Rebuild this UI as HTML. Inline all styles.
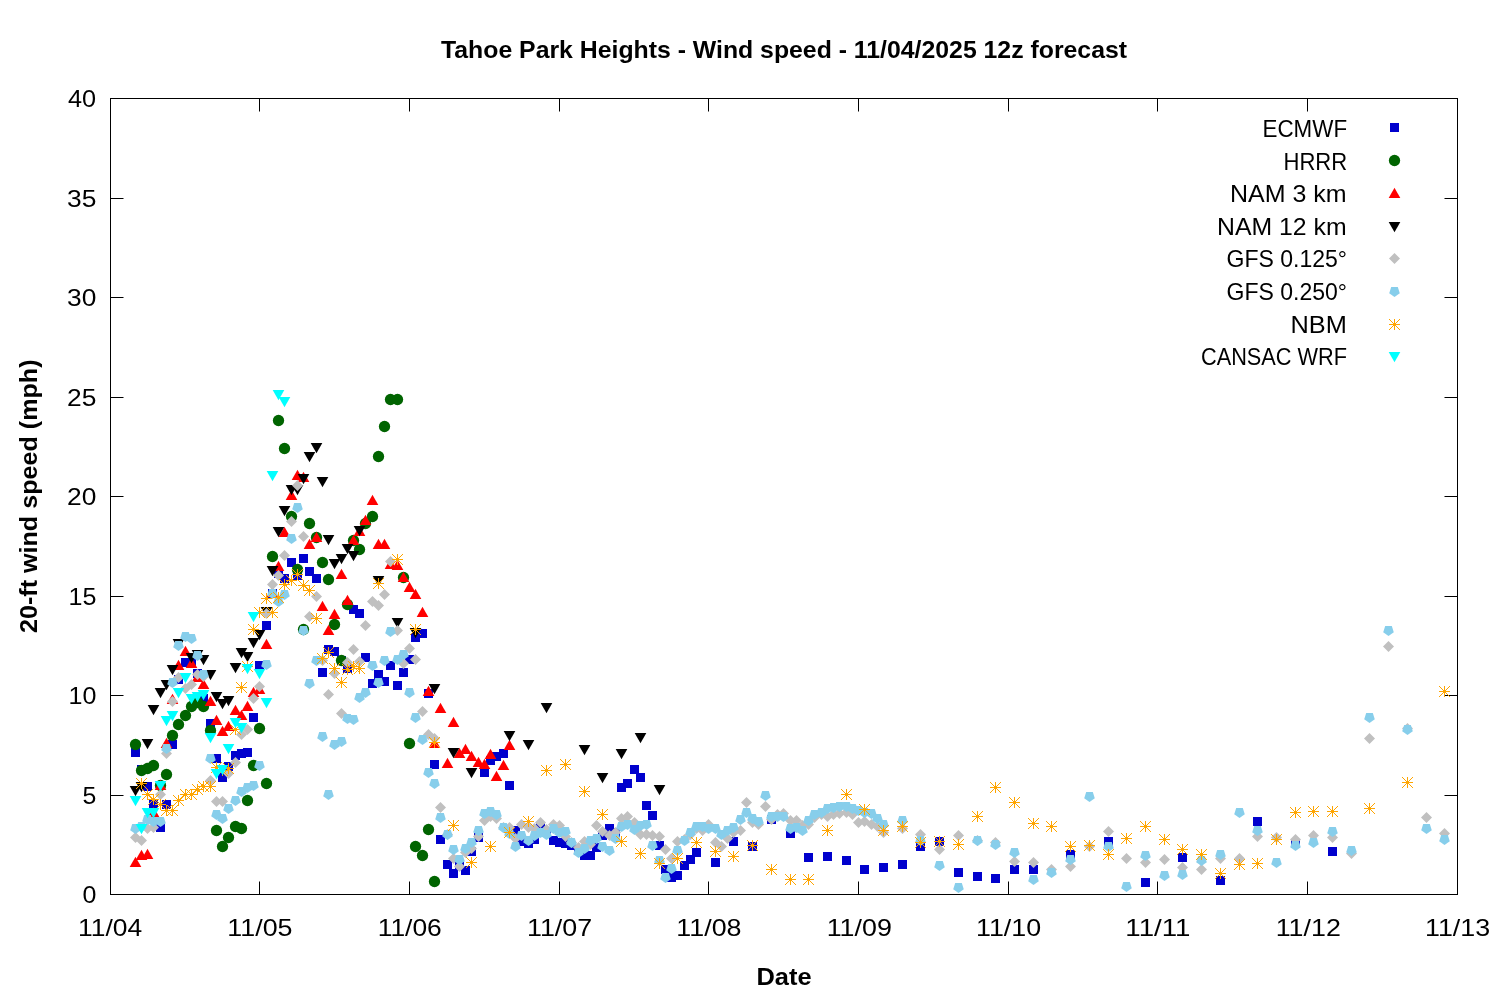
<!DOCTYPE html>
<html lang="en"><head><meta charset="utf-8"><title>Tahoe Park Heights - Wind speed - 11/04/2025 12z forecast</title>
<style>html,body{margin:0;padding:0;background:#fff}svg{display:block}text{font-family:"Liberation Sans", sans-serif;fill:#000}</style>
</head><body>
<svg width="1500" height="1000" viewBox="0 0 1500 1000">
<rect width="1500" height="1000" fill="#fff"/>
<g stroke="#000" stroke-width="1" fill="none" stroke-linecap="butt">
<rect x="110.5" y="98.5" width="1347.0" height="796.0"/>
<path d="M110.5 894.5v-13M110.5 98.5v13M259.5 894.5v-13M259.5 98.5v13M409.5 894.5v-13M409.5 98.5v13M559.5 894.5v-13M559.5 98.5v13M708.5 894.5v-13M708.5 98.5v13M858.5 894.5v-13M858.5 98.5v13M1008.5 894.5v-13M1008.5 98.5v13M1157.5 894.5v-13M1157.5 98.5v13M1307.5 894.5v-13M1307.5 98.5v13M1457.5 894.5v-13M1457.5 98.5v13M110.5 894.5h13M1457.5 894.5h-13M110.5 795.5h13M1457.5 795.5h-13M110.5 695.5h13M1457.5 695.5h-13M110.5 596.5h13M1457.5 596.5h-13M110.5 496.5h13M1457.5 496.5h-13M110.5 397.5h13M1457.5 397.5h-13M110.5 297.5h13M1457.5 297.5h-13M110.5 198.5h13M1457.5 198.5h-13M110.5 98.5h13M1457.5 98.5h-13"/>
</g>
<text x="441.0" y="58.3" font-size="24" font-weight="bold" textLength="686.0" lengthAdjust="spacingAndGlyphs">Tahoe Park Heights - Wind speed - 11/04/2025 12z forecast</text>
<text x="756.5" y="985.3" font-size="24" font-weight="bold" textLength="55.09" lengthAdjust="spacingAndGlyphs">Date</text>
<text x="36.8" y="633.0" font-size="24" font-weight="bold" textLength="273.52" lengthAdjust="spacingAndGlyphs" transform="rotate(-90 36.8 633.0)">20-ft wind speed (mph)</text>
<text x="1262.5" y="136.9" font-size="24" textLength="84.57" lengthAdjust="spacingAndGlyphs">ECMWF</text>
<text x="1283.5" y="169.5" font-size="24" textLength="63.7" lengthAdjust="spacingAndGlyphs">HRRR</text>
<text x="1230.0" y="202.10000000000002" font-size="24" textLength="116.6" lengthAdjust="spacingAndGlyphs">NAM 3 km</text>
<text x="1217.0" y="234.70000000000002" font-size="24" textLength="129.57" lengthAdjust="spacingAndGlyphs">NAM 12 km</text>
<text x="1226.5" y="267.3" font-size="24" textLength="120.55" lengthAdjust="spacingAndGlyphs">GFS 0.125°</text>
<text x="1226.5" y="299.9" font-size="24" textLength="120.55" lengthAdjust="spacingAndGlyphs">GFS 0.250°</text>
<text x="1290.5" y="332.5" font-size="24" textLength="56.34" lengthAdjust="spacingAndGlyphs">NBM</text>
<text x="1201.0" y="365.1" font-size="24" textLength="146.02" lengthAdjust="spacingAndGlyphs">CANSAC WRF</text>
<text x="82.5" y="903.0" font-size="24" textLength="13.91" lengthAdjust="spacingAndGlyphs">0</text>
<text x="82.5" y="803.5" font-size="24" textLength="13.81" lengthAdjust="spacingAndGlyphs">5</text>
<text x="68.5" y="704.0" font-size="24" textLength="27.89" lengthAdjust="spacingAndGlyphs">10</text>
<text x="68.5" y="604.5" font-size="24" textLength="27.89" lengthAdjust="spacingAndGlyphs">15</text>
<text x="67.0" y="505.0" font-size="24" textLength="29.32" lengthAdjust="spacingAndGlyphs">20</text>
<text x="67.0" y="405.5" font-size="24" textLength="29.32" lengthAdjust="spacingAndGlyphs">25</text>
<text x="67.0" y="306.0" font-size="24" textLength="29.32" lengthAdjust="spacingAndGlyphs">30</text>
<text x="67.0" y="206.5" font-size="24" textLength="29.32" lengthAdjust="spacingAndGlyphs">35</text>
<text x="68.0" y="107.0" font-size="24" textLength="28.14" lengthAdjust="spacingAndGlyphs">40</text>
<text x="78.0" y="936.0" font-size="24" textLength="64.12" lengthAdjust="spacingAndGlyphs">11/04</text>
<text x="227.33" y="936.0" font-size="24" textLength="65.15" lengthAdjust="spacingAndGlyphs">11/05</text>
<text x="377.67" y="936.0" font-size="24" textLength="64.12" lengthAdjust="spacingAndGlyphs">11/06</text>
<text x="527.0" y="936.0" font-size="24" textLength="65.15" lengthAdjust="spacingAndGlyphs">11/07</text>
<text x="676.33" y="936.0" font-size="24" textLength="65.15" lengthAdjust="spacingAndGlyphs">11/08</text>
<text x="826.67" y="936.0" font-size="24" textLength="65.15" lengthAdjust="spacingAndGlyphs">11/09</text>
<text x="976.0" y="936.0" font-size="24" textLength="65.17" lengthAdjust="spacingAndGlyphs">11/10</text>
<text x="1125.33" y="936.0" font-size="24" textLength="65.17" lengthAdjust="spacingAndGlyphs">11/11</text>
<text x="1275.67" y="936.0" font-size="24" textLength="65.15" lengthAdjust="spacingAndGlyphs">11/12</text>
<text x="1425.0" y="936.0" font-size="24" textLength="65.15" lengthAdjust="spacingAndGlyphs">11/13</text>
<g fill="#0000cd">
<rect x="131.0" y="748.0" width="9" height="9"/>
<rect x="137.0" y="765.0" width="9" height="9"/>
<rect x="143.0" y="782.0" width="9" height="9"/>
<rect x="149.0" y="800.0" width="9" height="9"/>
<rect x="156.0" y="823.0" width="9" height="9"/>
<rect x="162.0" y="800.0" width="9" height="9"/>
<rect x="168.0" y="740.0" width="9" height="9"/>
<rect x="174.0" y="675.0" width="9" height="9"/>
<rect x="181.0" y="658.0" width="9" height="9"/>
<rect x="187.0" y="658.0" width="9" height="9"/>
<rect x="193.0" y="669.0" width="9" height="9"/>
<rect x="199.0" y="694.0" width="9" height="9"/>
<rect x="206.0" y="719.0" width="9" height="9"/>
<rect x="212.0" y="754.0" width="9" height="9"/>
<rect x="218.0" y="773.0" width="9" height="9"/>
<rect x="224.0" y="762.0" width="9" height="9"/>
<rect x="231.0" y="751.0" width="9" height="9"/>
<rect x="237.0" y="749.0" width="9" height="9"/>
<rect x="243.0" y="748.0" width="9" height="9"/>
<rect x="249.0" y="713.0" width="9" height="9"/>
<rect x="255.0" y="661.0" width="9" height="9"/>
<rect x="262.0" y="621.0" width="9" height="9"/>
<rect x="268.0" y="589.0" width="9" height="9"/>
<rect x="274.0" y="569.0" width="9" height="9"/>
<rect x="280.0" y="574.0" width="9" height="9"/>
<rect x="287.0" y="558.0" width="9" height="9"/>
<rect x="293.0" y="571.0" width="9" height="9"/>
<rect x="299.0" y="554.0" width="9" height="9"/>
<rect x="305.0" y="567.0" width="9" height="9"/>
<rect x="312.0" y="574.0" width="9" height="9"/>
<rect x="318.0" y="668.0" width="9" height="9"/>
<rect x="324.0" y="645.0" width="9" height="9"/>
<rect x="330.0" y="647.0" width="9" height="9"/>
<rect x="337.0" y="656.0" width="9" height="9"/>
<rect x="343.0" y="664.0" width="9" height="9"/>
<rect x="349.0" y="605.0" width="9" height="9"/>
<rect x="355.0" y="609.0" width="9" height="9"/>
<rect x="361.0" y="653.0" width="9" height="9"/>
<rect x="368.0" y="679.0" width="9" height="9"/>
<rect x="374.0" y="670.0" width="9" height="9"/>
<rect x="380.0" y="677.0" width="9" height="9"/>
<rect x="386.0" y="661.0" width="9" height="9"/>
<rect x="393.0" y="681.0" width="9" height="9"/>
<rect x="399.0" y="668.0" width="9" height="9"/>
<rect x="405.0" y="655.0" width="9" height="9"/>
<rect x="411.0" y="633.0" width="9" height="9"/>
<rect x="418.0" y="629.0" width="9" height="9"/>
<rect x="424.0" y="689.0" width="9" height="9"/>
<rect x="430.0" y="760.0" width="9" height="9"/>
<rect x="436.0" y="835.0" width="9" height="9"/>
<rect x="443.0" y="860.0" width="9" height="9"/>
<rect x="449.0" y="869.0" width="9" height="9"/>
<rect x="455.0" y="861.0" width="9" height="9"/>
<rect x="461.0" y="866.0" width="9" height="9"/>
<rect x="467.0" y="847.0" width="9" height="9"/>
<rect x="474.0" y="833.0" width="9" height="9"/>
<rect x="480.0" y="768.0" width="9" height="9"/>
<rect x="486.0" y="756.0" width="9" height="9"/>
<rect x="492.0" y="752.0" width="9" height="9"/>
<rect x="499.0" y="749.0" width="9" height="9"/>
<rect x="505.0" y="781.0" width="9" height="9"/>
<rect x="511.0" y="826.0" width="9" height="9"/>
<rect x="517.0" y="837.0" width="9" height="9"/>
<rect x="524.0" y="839.0" width="9" height="9"/>
<rect x="530.0" y="835.0" width="9" height="9"/>
<rect x="536.0" y="822.0" width="9" height="9"/>
<rect x="542.0" y="828.0" width="9" height="9"/>
<rect x="549.0" y="836.0" width="9" height="9"/>
<rect x="555.0" y="838.0" width="9" height="9"/>
<rect x="561.0" y="839.0" width="9" height="9"/>
<rect x="567.0" y="841.0" width="9" height="9"/>
<rect x="574.0" y="846.0" width="9" height="9"/>
<rect x="580.0" y="851.0" width="9" height="9"/>
<rect x="586.0" y="851.0" width="9" height="9"/>
<rect x="592.0" y="843.0" width="9" height="9"/>
<rect x="598.0" y="831.0" width="9" height="9"/>
<rect x="605.0" y="824.0" width="9" height="9"/>
<rect x="611.0" y="828.0" width="9" height="9"/>
<rect x="617.0" y="783.0" width="9" height="9"/>
<rect x="623.0" y="779.0" width="9" height="9"/>
<rect x="630.0" y="765.0" width="9" height="9"/>
<rect x="636.0" y="773.0" width="9" height="9"/>
<rect x="642.0" y="801.0" width="9" height="9"/>
<rect x="648.0" y="811.0" width="9" height="9"/>
<rect x="655.0" y="841.0" width="9" height="9"/>
<rect x="661.0" y="865.0" width="9" height="9"/>
<rect x="667.0" y="873.0" width="9" height="9"/>
<rect x="673.0" y="871.0" width="9" height="9"/>
<rect x="680.0" y="861.0" width="9" height="9"/>
<rect x="686.0" y="855.0" width="9" height="9"/>
<rect x="692.0" y="848.0" width="9" height="9"/>
<rect x="711.0" y="858.0" width="9" height="9"/>
<rect x="729.0" y="837.0" width="9" height="9"/>
<rect x="748.0" y="842.0" width="9" height="9"/>
<rect x="767.0" y="815.0" width="9" height="9"/>
<rect x="786.0" y="829.0" width="9" height="9"/>
<rect x="804.0" y="853.0" width="9" height="9"/>
<rect x="823.0" y="852.0" width="9" height="9"/>
<rect x="842.0" y="856.0" width="9" height="9"/>
<rect x="860.0" y="865.0" width="9" height="9"/>
<rect x="879.0" y="863.0" width="9" height="9"/>
<rect x="898.0" y="860.0" width="9" height="9"/>
<rect x="916.0" y="842.0" width="9" height="9"/>
<rect x="935.0" y="837.0" width="9" height="9"/>
<rect x="954.0" y="868.0" width="9" height="9"/>
<rect x="973.0" y="872.0" width="9" height="9"/>
<rect x="991.0" y="874.0" width="9" height="9"/>
<rect x="1010.0" y="865.0" width="9" height="9"/>
<rect x="1029.0" y="865.0" width="9" height="9"/>
<rect x="1066.0" y="850.0" width="9" height="9"/>
<rect x="1104.0" y="837.0" width="9" height="9"/>
<rect x="1141.0" y="878.0" width="9" height="9"/>
<rect x="1178.0" y="853.0" width="9" height="9"/>
<rect x="1216.0" y="876.0" width="9" height="9"/>
<rect x="1253.0" y="817.0" width="9" height="9"/>
<rect x="1291.0" y="839.0" width="9" height="9"/>
<rect x="1328.0" y="847.0" width="9" height="9"/>
<rect x="1390.0" y="123.0" width="9" height="9"/>
</g>
<g fill="#006400">
<circle cx="135.5" cy="744.5" r="5.65"/>
<circle cx="141.5" cy="770.5" r="5.65"/>
<circle cx="147.5" cy="768.5" r="5.65"/>
<circle cx="153.5" cy="765.5" r="5.65"/>
<circle cx="160.5" cy="785.5" r="5.65"/>
<circle cx="166.5" cy="774.5" r="5.65"/>
<circle cx="172.5" cy="735.5" r="5.65"/>
<circle cx="178.5" cy="724.5" r="5.65"/>
<circle cx="185.5" cy="715.5" r="5.65"/>
<circle cx="191.5" cy="706.5" r="5.65"/>
<circle cx="197.5" cy="702.5" r="5.65"/>
<circle cx="203.5" cy="706.5" r="5.65"/>
<circle cx="210.5" cy="730.5" r="5.65"/>
<circle cx="216.5" cy="830.5" r="5.65"/>
<circle cx="222.5" cy="846.5" r="5.65"/>
<circle cx="228.5" cy="837.5" r="5.65"/>
<circle cx="235.5" cy="826.5" r="5.65"/>
<circle cx="241.5" cy="828.5" r="5.65"/>
<circle cx="247.5" cy="800.5" r="5.65"/>
<circle cx="253.5" cy="765.5" r="5.65"/>
<circle cx="259.5" cy="728.5" r="5.65"/>
<circle cx="266.5" cy="783.5" r="5.65"/>
<circle cx="272.5" cy="556.5" r="5.65"/>
<circle cx="278.5" cy="420.5" r="5.65"/>
<circle cx="284.5" cy="448.5" r="5.65"/>
<circle cx="291.5" cy="516.5" r="5.65"/>
<circle cx="297.5" cy="569.5" r="5.65"/>
<circle cx="303.5" cy="629.5" r="5.65"/>
<circle cx="309.5" cy="523.5" r="5.65"/>
<circle cx="316.5" cy="537.5" r="5.65"/>
<circle cx="322.5" cy="562.5" r="5.65"/>
<circle cx="328.5" cy="579.5" r="5.65"/>
<circle cx="334.5" cy="624.5" r="5.65"/>
<circle cx="341.5" cy="660.5" r="5.65"/>
<circle cx="347.5" cy="604.5" r="5.65"/>
<circle cx="353.5" cy="540.5" r="5.65"/>
<circle cx="359.5" cy="549.5" r="5.65"/>
<circle cx="365.5" cy="523.5" r="5.65"/>
<circle cx="372.5" cy="516.5" r="5.65"/>
<circle cx="378.5" cy="456.5" r="5.65"/>
<circle cx="384.5" cy="426.5" r="5.65"/>
<circle cx="390.5" cy="399.5" r="5.65"/>
<circle cx="397.5" cy="399.5" r="5.65"/>
<circle cx="403.5" cy="577.5" r="5.65"/>
<circle cx="409.5" cy="743.5" r="5.65"/>
<circle cx="415.5" cy="846.5" r="5.65"/>
<circle cx="422.5" cy="855.5" r="5.65"/>
<circle cx="428.5" cy="829.5" r="5.65"/>
<circle cx="434.5" cy="881.5" r="5.65"/>
<circle cx="1394.5" cy="160.5" r="5.65"/>
</g>
<g fill="#ff0000">
<path d="M135.5 856.82l5.8 10.2h-11.6z"/>
<path d="M141.5 849.82l5.8 10.2h-11.6z"/>
<path d="M147.5 848.82l5.8 10.2h-11.6z"/>
<path d="M153.5 806.82l5.8 10.2h-11.6z"/>
<path d="M160.5 779.82l5.8 10.2h-11.6z"/>
<path d="M166.5 737.82l5.8 10.2h-11.6z"/>
<path d="M172.5 693.82l5.8 10.2h-11.6z"/>
<path d="M178.5 659.82l5.8 10.2h-11.6z"/>
<path d="M185.5 645.82l5.8 10.2h-11.6z"/>
<path d="M191.5 657.82l5.8 10.2h-11.6z"/>
<path d="M197.5 671.82l5.8 10.2h-11.6z"/>
<path d="M203.5 678.82l5.8 10.2h-11.6z"/>
<path d="M210.5 695.82l5.8 10.2h-11.6z"/>
<path d="M216.5 714.82l5.8 10.2h-11.6z"/>
<path d="M222.5 725.82l5.8 10.2h-11.6z"/>
<path d="M228.5 720.82l5.8 10.2h-11.6z"/>
<path d="M235.5 704.82l5.8 10.2h-11.6z"/>
<path d="M241.5 709.82l5.8 10.2h-11.6z"/>
<path d="M247.5 700.82l5.8 10.2h-11.6z"/>
<path d="M253.5 686.82l5.8 10.2h-11.6z"/>
<path d="M259.5 683.82l5.8 10.2h-11.6z"/>
<path d="M266.5 638.82l5.8 10.2h-11.6z"/>
<path d="M272.5 586.82l5.8 10.2h-11.6z"/>
<path d="M278.5 560.82l5.8 10.2h-11.6z"/>
<path d="M284.5 526.82l5.8 10.2h-11.6z"/>
<path d="M291.5 489.82l5.8 10.2h-11.6z"/>
<path d="M297.5 469.82l5.8 10.2h-11.6z"/>
<path d="M303.5 471.82l5.8 10.2h-11.6z"/>
<path d="M309.5 538.82l5.8 10.2h-11.6z"/>
<path d="M316.5 531.82l5.8 10.2h-11.6z"/>
<path d="M322.5 600.82l5.8 10.2h-11.6z"/>
<path d="M328.5 624.82l5.8 10.2h-11.6z"/>
<path d="M334.5 608.82l5.8 10.2h-11.6z"/>
<path d="M341.5 568.82l5.8 10.2h-11.6z"/>
<path d="M347.5 594.82l5.8 10.2h-11.6z"/>
<path d="M353.5 534.82l5.8 10.2h-11.6z"/>
<path d="M359.5 525.82l5.8 10.2h-11.6z"/>
<path d="M365.5 514.82l5.8 10.2h-11.6z"/>
<path d="M372.5 494.82l5.8 10.2h-11.6z"/>
<path d="M378.5 538.82l5.8 10.2h-11.6z"/>
<path d="M384.5 538.82l5.8 10.2h-11.6z"/>
<path d="M390.5 558.82l5.8 10.2h-11.6z"/>
<path d="M397.5 559.82l5.8 10.2h-11.6z"/>
<path d="M403.5 571.82l5.8 10.2h-11.6z"/>
<path d="M409.5 581.82l5.8 10.2h-11.6z"/>
<path d="M415.5 588.82l5.8 10.2h-11.6z"/>
<path d="M422.5 606.82l5.8 10.2h-11.6z"/>
<path d="M428.5 685.82l5.8 10.2h-11.6z"/>
<path d="M434.5 737.82l5.8 10.2h-11.6z"/>
<path d="M440.5 702.82l5.8 10.2h-11.6z"/>
<path d="M447.5 757.82l5.8 10.2h-11.6z"/>
<path d="M453.5 716.82l5.8 10.2h-11.6z"/>
<path d="M459.5 747.82l5.8 10.2h-11.6z"/>
<path d="M465.5 743.82l5.8 10.2h-11.6z"/>
<path d="M471.5 750.82l5.8 10.2h-11.6z"/>
<path d="M478.5 756.82l5.8 10.2h-11.6z"/>
<path d="M484.5 758.82l5.8 10.2h-11.6z"/>
<path d="M490.5 748.82l5.8 10.2h-11.6z"/>
<path d="M496.5 770.82l5.8 10.2h-11.6z"/>
<path d="M503.5 759.82l5.8 10.2h-11.6z"/>
<path d="M509.5 739.82l5.8 10.2h-11.6z"/>
<path d="M1394.5 187.82l5.8 10.2h-11.6z"/>
</g>
<g fill="#000000">
<path d="M135.5 796.18l5.8 -10.2h-11.6z"/>
<path d="M141.5 792.18l5.8 -10.2h-11.6z"/>
<path d="M147.5 749.18l5.8 -10.2h-11.6z"/>
<path d="M153.5 715.18l5.8 -10.2h-11.6z"/>
<path d="M160.5 698.18l5.8 -10.2h-11.6z"/>
<path d="M166.5 690.18l5.8 -10.2h-11.6z"/>
<path d="M172.5 675.18l5.8 -10.2h-11.6z"/>
<path d="M178.5 649.18l5.8 -10.2h-11.6z"/>
<path d="M191.5 663.18l5.8 -10.2h-11.6z"/>
<path d="M197.5 660.18l5.8 -10.2h-11.6z"/>
<path d="M203.5 665.18l5.8 -10.2h-11.6z"/>
<path d="M210.5 680.18l5.8 -10.2h-11.6z"/>
<path d="M216.5 702.18l5.8 -10.2h-11.6z"/>
<path d="M222.5 709.18l5.8 -10.2h-11.6z"/>
<path d="M228.5 706.18l5.8 -10.2h-11.6z"/>
<path d="M235.5 673.18l5.8 -10.2h-11.6z"/>
<path d="M241.5 658.18l5.8 -10.2h-11.6z"/>
<path d="M247.5 662.18l5.8 -10.2h-11.6z"/>
<path d="M253.5 648.18l5.8 -10.2h-11.6z"/>
<path d="M259.5 640.18l5.8 -10.2h-11.6z"/>
<path d="M266.5 617.18l5.8 -10.2h-11.6z"/>
<path d="M272.5 576.18l5.8 -10.2h-11.6z"/>
<path d="M278.5 537.18l5.8 -10.2h-11.6z"/>
<path d="M284.5 516.18l5.8 -10.2h-11.6z"/>
<path d="M291.5 495.18l5.8 -10.2h-11.6z"/>
<path d="M297.5 495.18l5.8 -10.2h-11.6z"/>
<path d="M303.5 484.18l5.8 -10.2h-11.6z"/>
<path d="M309.5 462.18l5.8 -10.2h-11.6z"/>
<path d="M316.5 453.18l5.8 -10.2h-11.6z"/>
<path d="M322.5 487.18l5.8 -10.2h-11.6z"/>
<path d="M328.5 545.18l5.8 -10.2h-11.6z"/>
<path d="M334.5 569.18l5.8 -10.2h-11.6z"/>
<path d="M341.5 564.18l5.8 -10.2h-11.6z"/>
<path d="M347.5 554.18l5.8 -10.2h-11.6z"/>
<path d="M353.5 561.18l5.8 -10.2h-11.6z"/>
<path d="M359.5 536.18l5.8 -10.2h-11.6z"/>
<path d="M378.5 586.18l5.8 -10.2h-11.6z"/>
<path d="M397.5 628.18l5.8 -10.2h-11.6z"/>
<path d="M415.5 638.18l5.8 -10.2h-11.6z"/>
<path d="M434.5 694.18l5.8 -10.2h-11.6z"/>
<path d="M453.5 758.18l5.8 -10.2h-11.6z"/>
<path d="M471.5 778.18l5.8 -10.2h-11.6z"/>
<path d="M509.5 741.18l5.8 -10.2h-11.6z"/>
<path d="M528.5 750.18l5.8 -10.2h-11.6z"/>
<path d="M546.5 713.18l5.8 -10.2h-11.6z"/>
<path d="M584.5 755.18l5.8 -10.2h-11.6z"/>
<path d="M602.5 783.18l5.8 -10.2h-11.6z"/>
<path d="M621.5 759.18l5.8 -10.2h-11.6z"/>
<path d="M640.5 743.18l5.8 -10.2h-11.6z"/>
<path d="M659.5 795.18l5.8 -10.2h-11.6z"/>
<path d="M1394.5 232.18l5.8 -10.2h-11.6z"/>
</g>
<g fill="#c0c0c0">
<path d="M135.5 832.0l5.5 5.5l-5.5 5.5l-5.5 -5.5z"/>
<path d="M141.5 835.0l5.5 5.5l-5.5 5.5l-5.5 -5.5z"/>
<path d="M147.5 823.0l5.5 5.5l-5.5 5.5l-5.5 -5.5z"/>
<path d="M153.5 822.0l5.5 5.5l-5.5 5.5l-5.5 -5.5z"/>
<path d="M160.5 789.0l5.5 5.5l-5.5 5.5l-5.5 -5.5z"/>
<path d="M166.5 748.0l5.5 5.5l-5.5 5.5l-5.5 -5.5z"/>
<path d="M172.5 696.0l5.5 5.5l-5.5 5.5l-5.5 -5.5z"/>
<path d="M178.5 672.0l5.5 5.5l-5.5 5.5l-5.5 -5.5z"/>
<path d="M185.5 683.0l5.5 5.5l-5.5 5.5l-5.5 -5.5z"/>
<path d="M191.5 679.0l5.5 5.5l-5.5 5.5l-5.5 -5.5z"/>
<path d="M197.5 669.0l5.5 5.5l-5.5 5.5l-5.5 -5.5z"/>
<path d="M203.5 671.0l5.5 5.5l-5.5 5.5l-5.5 -5.5z"/>
<path d="M210.5 775.0l5.5 5.5l-5.5 5.5l-5.5 -5.5z"/>
<path d="M216.5 796.0l5.5 5.5l-5.5 5.5l-5.5 -5.5z"/>
<path d="M222.5 796.0l5.5 5.5l-5.5 5.5l-5.5 -5.5z"/>
<path d="M228.5 768.0l5.5 5.5l-5.5 5.5l-5.5 -5.5z"/>
<path d="M235.5 757.0l5.5 5.5l-5.5 5.5l-5.5 -5.5z"/>
<path d="M241.5 729.0l5.5 5.5l-5.5 5.5l-5.5 -5.5z"/>
<path d="M247.5 724.0l5.5 5.5l-5.5 5.5l-5.5 -5.5z"/>
<path d="M253.5 693.0l5.5 5.5l-5.5 5.5l-5.5 -5.5z"/>
<path d="M259.5 681.0l5.5 5.5l-5.5 5.5l-5.5 -5.5z"/>
<path d="M266.5 608.0l5.5 5.5l-5.5 5.5l-5.5 -5.5z"/>
<path d="M272.5 579.0l5.5 5.5l-5.5 5.5l-5.5 -5.5z"/>
<path d="M278.5 570.0l5.5 5.5l-5.5 5.5l-5.5 -5.5z"/>
<path d="M284.5 550.0l5.5 5.5l-5.5 5.5l-5.5 -5.5z"/>
<path d="M291.5 516.0l5.5 5.5l-5.5 5.5l-5.5 -5.5z"/>
<path d="M297.5 480.0l5.5 5.5l-5.5 5.5l-5.5 -5.5z"/>
<path d="M303.5 531.0l5.5 5.5l-5.5 5.5l-5.5 -5.5z"/>
<path d="M309.5 611.0l5.5 5.5l-5.5 5.5l-5.5 -5.5z"/>
<path d="M316.5 591.0l5.5 5.5l-5.5 5.5l-5.5 -5.5z"/>
<path d="M322.5 655.0l5.5 5.5l-5.5 5.5l-5.5 -5.5z"/>
<path d="M328.5 689.0l5.5 5.5l-5.5 5.5l-5.5 -5.5z"/>
<path d="M334.5 668.0l5.5 5.5l-5.5 5.5l-5.5 -5.5z"/>
<path d="M341.5 708.0l5.5 5.5l-5.5 5.5l-5.5 -5.5z"/>
<path d="M347.5 657.0l5.5 5.5l-5.5 5.5l-5.5 -5.5z"/>
<path d="M353.5 644.0l5.5 5.5l-5.5 5.5l-5.5 -5.5z"/>
<path d="M359.5 656.0l5.5 5.5l-5.5 5.5l-5.5 -5.5z"/>
<path d="M365.5 620.0l5.5 5.5l-5.5 5.5l-5.5 -5.5z"/>
<path d="M372.5 596.0l5.5 5.5l-5.5 5.5l-5.5 -5.5z"/>
<path d="M378.5 600.0l5.5 5.5l-5.5 5.5l-5.5 -5.5z"/>
<path d="M384.5 589.0l5.5 5.5l-5.5 5.5l-5.5 -5.5z"/>
<path d="M390.5 556.0l5.5 5.5l-5.5 5.5l-5.5 -5.5z"/>
<path d="M397.5 625.0l5.5 5.5l-5.5 5.5l-5.5 -5.5z"/>
<path d="M403.5 658.0l5.5 5.5l-5.5 5.5l-5.5 -5.5z"/>
<path d="M409.5 643.0l5.5 5.5l-5.5 5.5l-5.5 -5.5z"/>
<path d="M415.5 654.0l5.5 5.5l-5.5 5.5l-5.5 -5.5z"/>
<path d="M422.5 706.0l5.5 5.5l-5.5 5.5l-5.5 -5.5z"/>
<path d="M428.5 729.0l5.5 5.5l-5.5 5.5l-5.5 -5.5z"/>
<path d="M434.5 733.0l5.5 5.5l-5.5 5.5l-5.5 -5.5z"/>
<path d="M440.5 802.0l5.5 5.5l-5.5 5.5l-5.5 -5.5z"/>
<path d="M447.5 829.0l5.5 5.5l-5.5 5.5l-5.5 -5.5z"/>
<path d="M453.5 853.0l5.5 5.5l-5.5 5.5l-5.5 -5.5z"/>
<path d="M459.5 861.0l5.5 5.5l-5.5 5.5l-5.5 -5.5z"/>
<path d="M465.5 847.0l5.5 5.5l-5.5 5.5l-5.5 -5.5z"/>
<path d="M471.5 843.0l5.5 5.5l-5.5 5.5l-5.5 -5.5z"/>
<path d="M478.5 831.0l5.5 5.5l-5.5 5.5l-5.5 -5.5z"/>
<path d="M484.5 815.0l5.5 5.5l-5.5 5.5l-5.5 -5.5z"/>
<path d="M490.5 811.0l5.5 5.5l-5.5 5.5l-5.5 -5.5z"/>
<path d="M496.5 813.0l5.5 5.5l-5.5 5.5l-5.5 -5.5z"/>
<path d="M503.5 822.0l5.5 5.5l-5.5 5.5l-5.5 -5.5z"/>
<path d="M509.5 822.0l5.5 5.5l-5.5 5.5l-5.5 -5.5z"/>
<path d="M515.5 833.0l5.5 5.5l-5.5 5.5l-5.5 -5.5z"/>
<path d="M521.5 819.0l5.5 5.5l-5.5 5.5l-5.5 -5.5z"/>
<path d="M528.5 822.0l5.5 5.5l-5.5 5.5l-5.5 -5.5z"/>
<path d="M534.5 823.0l5.5 5.5l-5.5 5.5l-5.5 -5.5z"/>
<path d="M540.5 817.0l5.5 5.5l-5.5 5.5l-5.5 -5.5z"/>
<path d="M546.5 824.0l5.5 5.5l-5.5 5.5l-5.5 -5.5z"/>
<path d="M553.5 819.0l5.5 5.5l-5.5 5.5l-5.5 -5.5z"/>
<path d="M559.5 820.0l5.5 5.5l-5.5 5.5l-5.5 -5.5z"/>
<path d="M565.5 831.0l5.5 5.5l-5.5 5.5l-5.5 -5.5z"/>
<path d="M571.5 837.0l5.5 5.5l-5.5 5.5l-5.5 -5.5z"/>
<path d="M578.5 842.0l5.5 5.5l-5.5 5.5l-5.5 -5.5z"/>
<path d="M584.5 836.0l5.5 5.5l-5.5 5.5l-5.5 -5.5z"/>
<path d="M590.5 839.0l5.5 5.5l-5.5 5.5l-5.5 -5.5z"/>
<path d="M596.5 820.0l5.5 5.5l-5.5 5.5l-5.5 -5.5z"/>
<path d="M602.5 826.0l5.5 5.5l-5.5 5.5l-5.5 -5.5z"/>
<path d="M609.5 830.0l5.5 5.5l-5.5 5.5l-5.5 -5.5z"/>
<path d="M615.5 827.0l5.5 5.5l-5.5 5.5l-5.5 -5.5z"/>
<path d="M621.5 813.0l5.5 5.5l-5.5 5.5l-5.5 -5.5z"/>
<path d="M627.5 811.0l5.5 5.5l-5.5 5.5l-5.5 -5.5z"/>
<path d="M634.5 817.0l5.5 5.5l-5.5 5.5l-5.5 -5.5z"/>
<path d="M640.5 829.0l5.5 5.5l-5.5 5.5l-5.5 -5.5z"/>
<path d="M646.5 829.0l5.5 5.5l-5.5 5.5l-5.5 -5.5z"/>
<path d="M652.5 830.0l5.5 5.5l-5.5 5.5l-5.5 -5.5z"/>
<path d="M659.5 831.0l5.5 5.5l-5.5 5.5l-5.5 -5.5z"/>
<path d="M665.5 844.0l5.5 5.5l-5.5 5.5l-5.5 -5.5z"/>
<path d="M671.5 853.0l5.5 5.5l-5.5 5.5l-5.5 -5.5z"/>
<path d="M677.5 836.0l5.5 5.5l-5.5 5.5l-5.5 -5.5z"/>
<path d="M684.5 834.0l5.5 5.5l-5.5 5.5l-5.5 -5.5z"/>
<path d="M690.5 829.0l5.5 5.5l-5.5 5.5l-5.5 -5.5z"/>
<path d="M696.5 823.0l5.5 5.5l-5.5 5.5l-5.5 -5.5z"/>
<path d="M702.5 825.0l5.5 5.5l-5.5 5.5l-5.5 -5.5z"/>
<path d="M708.5 819.0l5.5 5.5l-5.5 5.5l-5.5 -5.5z"/>
<path d="M715.5 837.0l5.5 5.5l-5.5 5.5l-5.5 -5.5z"/>
<path d="M721.5 841.0l5.5 5.5l-5.5 5.5l-5.5 -5.5z"/>
<path d="M727.5 833.0l5.5 5.5l-5.5 5.5l-5.5 -5.5z"/>
<path d="M733.5 827.0l5.5 5.5l-5.5 5.5l-5.5 -5.5z"/>
<path d="M740.5 825.0l5.5 5.5l-5.5 5.5l-5.5 -5.5z"/>
<path d="M746.5 797.0l5.5 5.5l-5.5 5.5l-5.5 -5.5z"/>
<path d="M752.5 817.0l5.5 5.5l-5.5 5.5l-5.5 -5.5z"/>
<path d="M758.5 819.0l5.5 5.5l-5.5 5.5l-5.5 -5.5z"/>
<path d="M765.5 801.0l5.5 5.5l-5.5 5.5l-5.5 -5.5z"/>
<path d="M771.5 814.0l5.5 5.5l-5.5 5.5l-5.5 -5.5z"/>
<path d="M777.5 809.0l5.5 5.5l-5.5 5.5l-5.5 -5.5z"/>
<path d="M783.5 808.0l5.5 5.5l-5.5 5.5l-5.5 -5.5z"/>
<path d="M790.5 815.0l5.5 5.5l-5.5 5.5l-5.5 -5.5z"/>
<path d="M796.5 815.0l5.5 5.5l-5.5 5.5l-5.5 -5.5z"/>
<path d="M802.5 820.0l5.5 5.5l-5.5 5.5l-5.5 -5.5z"/>
<path d="M808.5 819.0l5.5 5.5l-5.5 5.5l-5.5 -5.5z"/>
<path d="M814.5 812.0l5.5 5.5l-5.5 5.5l-5.5 -5.5z"/>
<path d="M821.5 809.0l5.5 5.5l-5.5 5.5l-5.5 -5.5z"/>
<path d="M827.5 811.0l5.5 5.5l-5.5 5.5l-5.5 -5.5z"/>
<path d="M833.5 809.0l5.5 5.5l-5.5 5.5l-5.5 -5.5z"/>
<path d="M839.5 808.0l5.5 5.5l-5.5 5.5l-5.5 -5.5z"/>
<path d="M846.5 807.0l5.5 5.5l-5.5 5.5l-5.5 -5.5z"/>
<path d="M852.5 809.0l5.5 5.5l-5.5 5.5l-5.5 -5.5z"/>
<path d="M858.5 817.0l5.5 5.5l-5.5 5.5l-5.5 -5.5z"/>
<path d="M864.5 816.0l5.5 5.5l-5.5 5.5l-5.5 -5.5z"/>
<path d="M871.5 819.0l5.5 5.5l-5.5 5.5l-5.5 -5.5z"/>
<path d="M877.5 821.0l5.5 5.5l-5.5 5.5l-5.5 -5.5z"/>
<path d="M883.5 827.0l5.5 5.5l-5.5 5.5l-5.5 -5.5z"/>
<path d="M902.5 823.0l5.5 5.5l-5.5 5.5l-5.5 -5.5z"/>
<path d="M920.5 829.0l5.5 5.5l-5.5 5.5l-5.5 -5.5z"/>
<path d="M939.5 844.0l5.5 5.5l-5.5 5.5l-5.5 -5.5z"/>
<path d="M958.5 830.0l5.5 5.5l-5.5 5.5l-5.5 -5.5z"/>
<path d="M977.5 835.0l5.5 5.5l-5.5 5.5l-5.5 -5.5z"/>
<path d="M995.5 837.0l5.5 5.5l-5.5 5.5l-5.5 -5.5z"/>
<path d="M1014.5 856.0l5.5 5.5l-5.5 5.5l-5.5 -5.5z"/>
<path d="M1033.5 857.0l5.5 5.5l-5.5 5.5l-5.5 -5.5z"/>
<path d="M1051.5 864.0l5.5 5.5l-5.5 5.5l-5.5 -5.5z"/>
<path d="M1070.5 861.0l5.5 5.5l-5.5 5.5l-5.5 -5.5z"/>
<path d="M1089.5 841.0l5.5 5.5l-5.5 5.5l-5.5 -5.5z"/>
<path d="M1108.5 826.0l5.5 5.5l-5.5 5.5l-5.5 -5.5z"/>
<path d="M1126.5 853.0l5.5 5.5l-5.5 5.5l-5.5 -5.5z"/>
<path d="M1145.5 857.0l5.5 5.5l-5.5 5.5l-5.5 -5.5z"/>
<path d="M1164.5 854.0l5.5 5.5l-5.5 5.5l-5.5 -5.5z"/>
<path d="M1182.5 862.0l5.5 5.5l-5.5 5.5l-5.5 -5.5z"/>
<path d="M1201.5 864.0l5.5 5.5l-5.5 5.5l-5.5 -5.5z"/>
<path d="M1220.5 853.0l5.5 5.5l-5.5 5.5l-5.5 -5.5z"/>
<path d="M1239.5 853.0l5.5 5.5l-5.5 5.5l-5.5 -5.5z"/>
<path d="M1257.5 831.0l5.5 5.5l-5.5 5.5l-5.5 -5.5z"/>
<path d="M1276.5 832.0l5.5 5.5l-5.5 5.5l-5.5 -5.5z"/>
<path d="M1295.5 834.0l5.5 5.5l-5.5 5.5l-5.5 -5.5z"/>
<path d="M1313.5 830.0l5.5 5.5l-5.5 5.5l-5.5 -5.5z"/>
<path d="M1332.5 832.0l5.5 5.5l-5.5 5.5l-5.5 -5.5z"/>
<path d="M1351.5 848.0l5.5 5.5l-5.5 5.5l-5.5 -5.5z"/>
<path d="M1369.5 733.0l5.5 5.5l-5.5 5.5l-5.5 -5.5z"/>
<path d="M1388.5 641.0l5.5 5.5l-5.5 5.5l-5.5 -5.5z"/>
<path d="M1407.5 723.0l5.5 5.5l-5.5 5.5l-5.5 -5.5z"/>
<path d="M1426.5 812.0l5.5 5.5l-5.5 5.5l-5.5 -5.5z"/>
<path d="M1444.5 828.0l5.5 5.5l-5.5 5.5l-5.5 -5.5z"/>
<path d="M1394.5 253.0l5.5 5.5l-5.5 5.5l-5.5 -5.5z"/>
</g>
<g fill="#87ceeb">
<polygon points="135.5,834.1 130.2,830.2 132.2,824.0 138.8,824.0 140.8,830.2"/>
<polygon points="141.5,832.1 136.2,828.2 138.2,822.0 144.8,822.0 146.8,828.2"/>
<polygon points="147.5,825.1 142.2,821.2 144.2,815.0 150.8,815.0 152.8,821.2"/>
<polygon points="153.5,827.1 148.2,823.2 150.2,817.0 156.8,817.0 158.8,823.2"/>
<polygon points="160.5,827.1 155.2,823.2 157.2,817.0 163.8,817.0 165.8,823.2"/>
<polygon points="166.5,754.1 161.2,750.2 163.2,744.0 169.8,744.0 171.8,750.2"/>
<polygon points="172.5,688.1 167.2,684.2 169.2,678.0 175.8,678.0 177.8,684.2"/>
<polygon points="178.5,651.1 173.2,647.2 175.2,641.0 181.8,641.0 183.8,647.2"/>
<polygon points="185.5,642.1 180.2,638.2 182.2,632.0 188.8,632.0 190.8,638.2"/>
<polygon points="191.5,644.1 186.2,640.2 188.2,634.0 194.8,634.0 196.8,640.2"/>
<polygon points="197.5,661.1 192.2,657.2 194.2,651.0 200.8,651.0 202.8,657.2"/>
<polygon points="203.5,680.1 198.2,676.2 200.2,670.0 206.8,670.0 208.8,676.2"/>
<polygon points="210.5,764.1 205.2,760.2 207.2,754.0 213.8,754.0 215.8,760.2"/>
<polygon points="216.5,820.1 211.2,816.2 213.2,810.0 219.8,810.0 221.8,816.2"/>
<polygon points="222.5,824.1 217.2,820.2 219.2,814.0 225.8,814.0 227.8,820.2"/>
<polygon points="228.5,814.1 223.2,810.2 225.2,804.0 231.8,804.0 233.8,810.2"/>
<polygon points="235.5,806.1 230.2,802.2 232.2,796.0 238.8,796.0 240.8,802.2"/>
<polygon points="241.5,797.1 236.2,793.2 238.2,787.0 244.8,787.0 246.8,793.2"/>
<polygon points="247.5,793.1 242.2,789.2 244.2,783.0 250.8,783.0 252.8,789.2"/>
<polygon points="253.5,791.1 248.2,787.2 250.2,781.0 256.8,781.0 258.8,787.2"/>
<polygon points="259.5,771.1 254.2,767.2 256.2,761.0 262.8,761.0 264.8,767.2"/>
<polygon points="266.5,670.1 261.2,666.2 263.2,660.0 269.8,660.0 271.8,666.2"/>
<polygon points="272.5,599.1 267.2,595.2 269.2,589.0 275.8,589.0 277.8,595.2"/>
<polygon points="278.5,607.1 273.2,603.2 275.2,597.0 281.8,597.0 283.8,603.2"/>
<polygon points="284.5,600.1 279.2,596.2 281.2,590.0 287.8,590.0 289.8,596.2"/>
<polygon points="291.5,544.1 286.2,540.2 288.2,534.0 294.8,534.0 296.8,540.2"/>
<polygon points="297.5,513.1 292.2,509.2 294.2,503.0 300.8,503.0 302.8,509.2"/>
<polygon points="303.5,636.1 298.2,632.2 300.2,626.0 306.8,626.0 308.8,632.2"/>
<polygon points="309.5,689.1 304.2,685.2 306.2,679.0 312.8,679.0 314.8,685.2"/>
<polygon points="316.5,666.1 311.2,662.2 313.2,656.0 319.8,656.0 321.8,662.2"/>
<polygon points="322.5,742.1 317.2,738.2 319.2,732.0 325.8,732.0 327.8,738.2"/>
<polygon points="328.5,800.1 323.2,796.2 325.2,790.0 331.8,790.0 333.8,796.2"/>
<polygon points="334.5,750.1 329.2,746.2 331.2,740.0 337.8,740.0 339.8,746.2"/>
<polygon points="341.5,747.1 336.2,743.2 338.2,737.0 344.8,737.0 346.8,743.2"/>
<polygon points="347.5,724.1 342.2,720.2 344.2,714.0 350.8,714.0 352.8,720.2"/>
<polygon points="353.5,725.1 348.2,721.2 350.2,715.0 356.8,715.0 358.8,721.2"/>
<polygon points="359.5,703.1 354.2,699.2 356.2,693.0 362.8,693.0 364.8,699.2"/>
<polygon points="365.5,698.1 360.2,694.2 362.2,688.0 368.8,688.0 370.8,694.2"/>
<polygon points="372.5,671.1 367.2,667.2 369.2,661.0 375.8,661.0 377.8,667.2"/>
<polygon points="378.5,688.1 373.2,684.2 375.2,678.0 381.8,678.0 383.8,684.2"/>
<polygon points="384.5,666.1 379.2,662.2 381.2,656.0 387.8,656.0 389.8,662.2"/>
<polygon points="390.5,637.1 385.2,633.2 387.2,627.0 393.8,627.0 395.8,633.2"/>
<polygon points="397.5,665.1 392.2,661.2 394.2,655.0 400.8,655.0 402.8,661.2"/>
<polygon points="403.5,660.1 398.2,656.2 400.2,650.0 406.8,650.0 408.8,656.2"/>
<polygon points="409.5,698.1 404.2,694.2 406.2,688.0 412.8,688.0 414.8,694.2"/>
<polygon points="415.5,723.1 410.2,719.2 412.2,713.0 418.8,713.0 420.8,719.2"/>
<polygon points="422.5,745.1 417.2,741.2 419.2,735.0 425.8,735.0 427.8,741.2"/>
<polygon points="428.5,778.1 423.2,774.2 425.2,768.0 431.8,768.0 433.8,774.2"/>
<polygon points="434.5,789.1 429.2,785.2 431.2,779.0 437.8,779.0 439.8,785.2"/>
<polygon points="440.5,823.1 435.2,819.2 437.2,813.0 443.8,813.0 445.8,819.2"/>
<polygon points="447.5,840.1 442.2,836.2 444.2,830.0 450.8,830.0 452.8,836.2"/>
<polygon points="453.5,855.1 448.2,851.2 450.2,845.0 456.8,845.0 458.8,851.2"/>
<polygon points="459.5,865.1 454.2,861.2 456.2,855.0 462.8,855.0 464.8,861.2"/>
<polygon points="465.5,854.1 460.2,850.2 462.2,844.0 468.8,844.0 470.8,850.2"/>
<polygon points="471.5,848.1 466.2,844.2 468.2,838.0 474.8,838.0 476.8,844.2"/>
<polygon points="478.5,836.1 473.2,832.2 475.2,826.0 481.8,826.0 483.8,832.2"/>
<polygon points="484.5,819.1 479.2,815.2 481.2,809.0 487.8,809.0 489.8,815.2"/>
<polygon points="490.5,817.1 485.2,813.2 487.2,807.0 493.8,807.0 495.8,813.2"/>
<polygon points="496.5,820.1 491.2,816.2 493.2,810.0 499.8,810.0 501.8,816.2"/>
<polygon points="503.5,833.1 498.2,829.2 500.2,823.0 506.8,823.0 508.8,829.2"/>
<polygon points="509.5,839.1 504.2,835.2 506.2,829.0 512.8,829.0 514.8,835.2"/>
<polygon points="515.5,852.1 510.2,848.2 512.2,842.0 518.8,842.0 520.8,848.2"/>
<polygon points="521.5,841.1 516.2,837.2 518.2,831.0 524.8,831.0 526.8,837.2"/>
<polygon points="528.5,846.1 523.2,842.2 525.2,836.0 531.8,836.0 533.8,842.2"/>
<polygon points="534.5,841.1 529.2,837.2 531.2,831.0 537.8,831.0 539.8,837.2"/>
<polygon points="540.5,838.1 535.2,834.2 537.2,828.0 543.8,828.0 545.8,834.2"/>
<polygon points="546.5,840.1 541.2,836.2 543.2,830.0 549.8,830.0 551.8,836.2"/>
<polygon points="553.5,834.1 548.2,830.2 550.2,824.0 556.8,824.0 558.8,830.2"/>
<polygon points="559.5,838.1 554.2,834.2 556.2,828.0 562.8,828.0 564.8,834.2"/>
<polygon points="565.5,837.1 560.2,833.2 562.2,827.0 568.8,827.0 570.8,833.2"/>
<polygon points="571.5,848.1 566.2,844.2 568.2,838.0 574.8,838.0 576.8,844.2"/>
<polygon points="578.5,858.1 573.2,854.2 575.2,848.0 581.8,848.0 583.8,854.2"/>
<polygon points="584.5,854.1 579.2,850.2 581.2,844.0 587.8,844.0 589.8,850.2"/>
<polygon points="590.5,846.1 585.2,842.2 587.2,836.0 593.8,836.0 595.8,842.2"/>
<polygon points="596.5,844.1 591.2,840.2 593.2,834.0 599.8,834.0 601.8,840.2"/>
<polygon points="602.5,852.1 597.2,848.2 599.2,842.0 605.8,842.0 607.8,848.2"/>
<polygon points="609.5,856.1 604.2,852.2 606.2,846.0 612.8,846.0 614.8,852.2"/>
<polygon points="615.5,844.1 610.2,840.2 612.2,834.0 618.8,834.0 620.8,840.2"/>
<polygon points="621.5,832.1 616.2,828.2 618.2,822.0 624.8,822.0 626.8,828.2"/>
<polygon points="627.5,830.1 622.2,826.2 624.2,820.0 630.8,820.0 632.8,826.2"/>
<polygon points="634.5,835.1 629.2,831.2 631.2,825.0 637.8,825.0 639.8,831.2"/>
<polygon points="640.5,831.1 635.2,827.2 637.2,821.0 643.8,821.0 645.8,827.2"/>
<polygon points="646.5,830.1 641.2,826.2 643.2,820.0 649.8,820.0 651.8,826.2"/>
<polygon points="652.5,851.1 647.2,847.2 649.2,841.0 655.8,841.0 657.8,847.2"/>
<polygon points="659.5,866.1 654.2,862.2 656.2,856.0 662.8,856.0 664.8,862.2"/>
<polygon points="665.5,883.1 660.2,879.2 662.2,873.0 668.8,873.0 670.8,879.2"/>
<polygon points="671.5,874.1 666.2,870.2 668.2,864.0 674.8,864.0 676.8,870.2"/>
<polygon points="677.5,856.1 672.2,852.2 674.2,846.0 680.8,846.0 682.8,852.2"/>
<polygon points="684.5,846.1 679.2,842.2 681.2,836.0 687.8,836.0 689.8,842.2"/>
<polygon points="690.5,838.1 685.2,834.2 687.2,828.0 693.8,828.0 695.8,834.2"/>
<polygon points="696.5,832.1 691.2,828.2 693.2,822.0 699.8,822.0 701.8,828.2"/>
<polygon points="702.5,832.1 697.2,828.2 699.2,822.0 705.8,822.0 707.8,828.2"/>
<polygon points="708.5,834.1 703.2,830.2 705.2,824.0 711.8,824.0 713.8,830.2"/>
<polygon points="715.5,834.1 710.2,830.2 712.2,824.0 718.8,824.0 720.8,830.2"/>
<polygon points="721.5,840.1 716.2,836.2 718.2,830.0 724.8,830.0 726.8,836.2"/>
<polygon points="727.5,836.1 722.2,832.2 724.2,826.0 730.8,826.0 732.8,832.2"/>
<polygon points="733.5,833.1 728.2,829.2 730.2,823.0 736.8,823.0 738.8,829.2"/>
<polygon points="740.5,825.1 735.2,821.2 737.2,815.0 743.8,815.0 745.8,821.2"/>
<polygon points="746.5,818.1 741.2,814.2 743.2,808.0 749.8,808.0 751.8,814.2"/>
<polygon points="752.5,824.1 747.2,820.2 749.2,814.0 755.8,814.0 757.8,820.2"/>
<polygon points="758.5,827.1 753.2,823.2 755.2,817.0 761.8,817.0 763.8,823.2"/>
<polygon points="765.5,801.1 760.2,797.2 762.2,791.0 768.8,791.0 770.8,797.2"/>
<polygon points="771.5,822.1 766.2,818.2 768.2,812.0 774.8,812.0 776.8,818.2"/>
<polygon points="777.5,822.1 772.2,818.2 774.2,812.0 780.8,812.0 782.8,818.2"/>
<polygon points="783.5,822.1 778.2,818.2 780.2,812.0 786.8,812.0 788.8,818.2"/>
<polygon points="790.5,834.1 785.2,830.2 787.2,824.0 793.8,824.0 795.8,830.2"/>
<polygon points="796.5,833.1 791.2,829.2 793.2,823.0 799.8,823.0 801.8,829.2"/>
<polygon points="802.5,836.1 797.2,832.2 799.2,826.0 805.8,826.0 807.8,832.2"/>
<polygon points="808.5,826.1 803.2,822.2 805.2,816.0 811.8,816.0 813.8,822.2"/>
<polygon points="814.5,820.1 809.2,816.2 811.2,810.0 817.8,810.0 819.8,816.2"/>
<polygon points="821.5,818.1 816.2,814.2 818.2,808.0 824.8,808.0 826.8,814.2"/>
<polygon points="827.5,814.1 822.2,810.2 824.2,804.0 830.8,804.0 832.8,810.2"/>
<polygon points="833.5,813.1 828.2,809.2 830.2,803.0 836.8,803.0 838.8,809.2"/>
<polygon points="839.5,812.1 834.2,808.2 836.2,802.0 842.8,802.0 844.8,808.2"/>
<polygon points="846.5,812.1 841.2,808.2 843.2,802.0 849.8,802.0 851.8,808.2"/>
<polygon points="852.5,814.1 847.2,810.2 849.2,804.0 855.8,804.0 857.8,810.2"/>
<polygon points="858.5,816.1 853.2,812.2 855.2,806.0 861.8,806.0 863.8,812.2"/>
<polygon points="864.5,818.1 859.2,814.2 861.2,808.0 867.8,808.0 869.8,814.2"/>
<polygon points="871.5,819.1 866.2,815.2 868.2,809.0 874.8,809.0 876.8,815.2"/>
<polygon points="877.5,824.1 872.2,820.2 874.2,814.0 880.8,814.0 882.8,820.2"/>
<polygon points="883.5,830.1 878.2,826.2 880.2,820.0 886.8,820.0 888.8,826.2"/>
<polygon points="902.5,826.1 897.2,822.2 899.2,816.0 905.8,816.0 907.8,822.2"/>
<polygon points="920.5,846.1 915.2,842.2 917.2,836.0 923.8,836.0 925.8,842.2"/>
<polygon points="939.5,871.1 934.2,867.2 936.2,861.0 942.8,861.0 944.8,867.2"/>
<polygon points="958.5,893.1 953.2,889.2 955.2,883.0 961.8,883.0 963.8,889.2"/>
<polygon points="977.5,846.1 972.2,842.2 974.2,836.0 980.8,836.0 982.8,842.2"/>
<polygon points="995.5,850.1 990.2,846.2 992.2,840.0 998.8,840.0 1000.8,846.2"/>
<polygon points="1014.5,858.1 1009.2,854.2 1011.2,848.0 1017.8,848.0 1019.8,854.2"/>
<polygon points="1033.5,885.1 1028.2,881.2 1030.2,875.0 1036.8,875.0 1038.8,881.2"/>
<polygon points="1051.5,878.1 1046.2,874.2 1048.2,868.0 1054.8,868.0 1056.8,874.2"/>
<polygon points="1070.5,865.1 1065.2,861.2 1067.2,855.0 1073.8,855.0 1075.8,861.2"/>
<polygon points="1089.5,802.1 1084.2,798.2 1086.2,792.0 1092.8,792.0 1094.8,798.2"/>
<polygon points="1108.5,852.1 1103.2,848.2 1105.2,842.0 1111.8,842.0 1113.8,848.2"/>
<polygon points="1126.5,892.1 1121.2,888.2 1123.2,882.0 1129.8,882.0 1131.8,888.2"/>
<polygon points="1145.5,861.1 1140.2,857.2 1142.2,851.0 1148.8,851.0 1150.8,857.2"/>
<polygon points="1164.5,881.1 1159.2,877.2 1161.2,871.0 1167.8,871.0 1169.8,877.2"/>
<polygon points="1182.5,880.1 1177.2,876.2 1179.2,870.0 1185.8,870.0 1187.8,876.2"/>
<polygon points="1201.5,866.1 1196.2,862.2 1198.2,856.0 1204.8,856.0 1206.8,862.2"/>
<polygon points="1220.5,860.1 1215.2,856.2 1217.2,850.0 1223.8,850.0 1225.8,856.2"/>
<polygon points="1239.5,818.1 1234.2,814.2 1236.2,808.0 1242.8,808.0 1244.8,814.2"/>
<polygon points="1257.5,836.1 1252.2,832.2 1254.2,826.0 1260.8,826.0 1262.8,832.2"/>
<polygon points="1276.5,868.1 1271.2,864.2 1273.2,858.0 1279.8,858.0 1281.8,864.2"/>
<polygon points="1295.5,851.1 1290.2,847.2 1292.2,841.0 1298.8,841.0 1300.8,847.2"/>
<polygon points="1313.5,848.1 1308.2,844.2 1310.2,838.0 1316.8,838.0 1318.8,844.2"/>
<polygon points="1332.5,837.1 1327.2,833.2 1329.2,827.0 1335.8,827.0 1337.8,833.2"/>
<polygon points="1351.5,856.1 1346.2,852.2 1348.2,846.0 1354.8,846.0 1356.8,852.2"/>
<polygon points="1369.5,723.1 1364.2,719.2 1366.2,713.0 1372.8,713.0 1374.8,719.2"/>
<polygon points="1388.5,636.1 1383.2,632.2 1385.2,626.0 1391.8,626.0 1393.8,632.2"/>
<polygon points="1407.5,735.1 1402.2,731.2 1404.2,725.0 1410.8,725.0 1412.8,731.2"/>
<polygon points="1426.5,834.1 1421.2,830.2 1423.2,824.0 1429.8,824.0 1431.8,830.2"/>
<polygon points="1444.5,845.1 1439.2,841.2 1441.2,835.0 1447.8,835.0 1449.8,841.2"/>
<polygon points="1394.5,297.1 1389.2,293.2 1391.2,287.0 1397.8,287.0 1399.8,293.2"/>
</g>
<g fill="none" stroke="#ffa500" stroke-width="1">
<path d="M136.0 783.5h11.0M141.5 778.0v11.0M136.0 778.0l11.0 11.0M136.0 789.0l11.0 -11.0"/>
<path d="M142.0 794.5h11.0M147.5 789.0v11.0M142.0 789.0l11.0 11.0M142.0 800.0l11.0 -11.0"/>
<path d="M148.0 799.5h11.0M153.5 794.0v11.0M148.0 794.0l11.0 11.0M148.0 805.0l11.0 -11.0"/>
<path d="M155.0 804.5h11.0M160.5 799.0v11.0M155.0 799.0l11.0 11.0M155.0 810.0l11.0 -11.0"/>
<path d="M161.0 810.5h11.0M166.5 805.0v11.0M161.0 805.0l11.0 11.0M161.0 816.0l11.0 -11.0"/>
<path d="M167.0 810.5h11.0M172.5 805.0v11.0M167.0 805.0l11.0 11.0M167.0 816.0l11.0 -11.0"/>
<path d="M173.0 800.5h11.0M178.5 795.0v11.0M173.0 795.0l11.0 11.0M173.0 806.0l11.0 -11.0"/>
<path d="M180.0 794.5h11.0M185.5 789.0v11.0M180.0 789.0l11.0 11.0M180.0 800.0l11.0 -11.0"/>
<path d="M186.0 794.5h11.0M191.5 789.0v11.0M186.0 789.0l11.0 11.0M186.0 800.0l11.0 -11.0"/>
<path d="M192.0 789.5h11.0M197.5 784.0v11.0M192.0 784.0l11.0 11.0M192.0 795.0l11.0 -11.0"/>
<path d="M198.0 786.5h11.0M203.5 781.0v11.0M198.0 781.0l11.0 11.0M198.0 792.0l11.0 -11.0"/>
<path d="M205.0 786.5h11.0M210.5 781.0v11.0M205.0 781.0l11.0 11.0M205.0 792.0l11.0 -11.0"/>
<path d="M211.0 767.5h11.0M216.5 762.0v11.0M211.0 762.0l11.0 11.0M211.0 773.0l11.0 -11.0"/>
<path d="M217.0 770.5h11.0M222.5 765.0v11.0M217.0 765.0l11.0 11.0M217.0 776.0l11.0 -11.0"/>
<path d="M223.0 768.5h11.0M228.5 763.0v11.0M223.0 763.0l11.0 11.0M223.0 774.0l11.0 -11.0"/>
<path d="M230.0 729.5h11.0M235.5 724.0v11.0M230.0 724.0l11.0 11.0M230.0 735.0l11.0 -11.0"/>
<path d="M236.0 687.5h11.0M241.5 682.0v11.0M236.0 682.0l11.0 11.0M236.0 693.0l11.0 -11.0"/>
<path d="M242.0 666.5h11.0M247.5 661.0v11.0M242.0 661.0l11.0 11.0M242.0 672.0l11.0 -11.0"/>
<path d="M248.0 629.5h11.0M253.5 624.0v11.0M248.0 624.0l11.0 11.0M248.0 635.0l11.0 -11.0"/>
<path d="M254.0 612.5h11.0M259.5 607.0v11.0M254.0 607.0l11.0 11.0M254.0 618.0l11.0 -11.0"/>
<path d="M261.0 598.5h11.0M266.5 593.0v11.0M261.0 593.0l11.0 11.0M261.0 604.0l11.0 -11.0"/>
<path d="M267.0 612.5h11.0M272.5 607.0v11.0M267.0 607.0l11.0 11.0M267.0 618.0l11.0 -11.0"/>
<path d="M273.0 597.5h11.0M278.5 592.0v11.0M273.0 592.0l11.0 11.0M273.0 603.0l11.0 -11.0"/>
<path d="M279.0 584.5h11.0M284.5 579.0v11.0M279.0 579.0l11.0 11.0M279.0 590.0l11.0 -11.0"/>
<path d="M286.0 580.5h11.0M291.5 575.0v11.0M286.0 575.0l11.0 11.0M286.0 586.0l11.0 -11.0"/>
<path d="M292.0 574.5h11.0M297.5 569.0v11.0M292.0 569.0l11.0 11.0M292.0 580.0l11.0 -11.0"/>
<path d="M298.0 585.5h11.0M303.5 580.0v11.0M298.0 580.0l11.0 11.0M298.0 591.0l11.0 -11.0"/>
<path d="M304.0 590.5h11.0M309.5 585.0v11.0M304.0 585.0l11.0 11.0M304.0 596.0l11.0 -11.0"/>
<path d="M311.0 618.5h11.0M316.5 613.0v11.0M311.0 613.0l11.0 11.0M311.0 624.0l11.0 -11.0"/>
<path d="M317.0 658.5h11.0M322.5 653.0v11.0M317.0 653.0l11.0 11.0M317.0 664.0l11.0 -11.0"/>
<path d="M323.0 652.5h11.0M328.5 647.0v11.0M323.0 647.0l11.0 11.0M323.0 658.0l11.0 -11.0"/>
<path d="M329.0 668.5h11.0M334.5 663.0v11.0M329.0 663.0l11.0 11.0M329.0 674.0l11.0 -11.0"/>
<path d="M336.0 682.5h11.0M341.5 677.0v11.0M336.0 677.0l11.0 11.0M336.0 688.0l11.0 -11.0"/>
<path d="M342.0 669.5h11.0M347.5 664.0v11.0M342.0 664.0l11.0 11.0M342.0 675.0l11.0 -11.0"/>
<path d="M348.0 666.5h11.0M353.5 661.0v11.0M348.0 661.0l11.0 11.0M348.0 672.0l11.0 -11.0"/>
<path d="M354.0 668.5h11.0M359.5 663.0v11.0M354.0 663.0l11.0 11.0M354.0 674.0l11.0 -11.0"/>
<path d="M373.0 583.5h11.0M378.5 578.0v11.0M373.0 578.0l11.0 11.0M373.0 589.0l11.0 -11.0"/>
<path d="M392.0 559.5h11.0M397.5 554.0v11.0M392.0 554.0l11.0 11.0M392.0 565.0l11.0 -11.0"/>
<path d="M410.0 629.5h11.0M415.5 624.0v11.0M410.0 624.0l11.0 11.0M410.0 635.0l11.0 -11.0"/>
<path d="M429.0 742.5h11.0M434.5 737.0v11.0M429.0 737.0l11.0 11.0M429.0 748.0l11.0 -11.0"/>
<path d="M448.0 825.5h11.0M453.5 820.0v11.0M448.0 820.0l11.0 11.0M448.0 831.0l11.0 -11.0"/>
<path d="M466.0 862.5h11.0M471.5 857.0v11.0M466.0 857.0l11.0 11.0M466.0 868.0l11.0 -11.0"/>
<path d="M485.0 846.5h11.0M490.5 841.0v11.0M485.0 841.0l11.0 11.0M485.0 852.0l11.0 -11.0"/>
<path d="M504.0 832.5h11.0M509.5 827.0v11.0M504.0 827.0l11.0 11.0M504.0 838.0l11.0 -11.0"/>
<path d="M523.0 821.5h11.0M528.5 816.0v11.0M523.0 816.0l11.0 11.0M523.0 827.0l11.0 -11.0"/>
<path d="M541.0 770.5h11.0M546.5 765.0v11.0M541.0 765.0l11.0 11.0M541.0 776.0l11.0 -11.0"/>
<path d="M560.0 764.5h11.0M565.5 759.0v11.0M560.0 759.0l11.0 11.0M560.0 770.0l11.0 -11.0"/>
<path d="M579.0 791.5h11.0M584.5 786.0v11.0M579.0 786.0l11.0 11.0M579.0 797.0l11.0 -11.0"/>
<path d="M597.0 814.5h11.0M602.5 809.0v11.0M597.0 809.0l11.0 11.0M597.0 820.0l11.0 -11.0"/>
<path d="M616.0 841.5h11.0M621.5 836.0v11.0M616.0 836.0l11.0 11.0M616.0 847.0l11.0 -11.0"/>
<path d="M635.0 853.5h11.0M640.5 848.0v11.0M635.0 848.0l11.0 11.0M635.0 859.0l11.0 -11.0"/>
<path d="M654.0 863.5h11.0M659.5 858.0v11.0M654.0 858.0l11.0 11.0M654.0 869.0l11.0 -11.0"/>
<path d="M672.0 858.5h11.0M677.5 853.0v11.0M672.0 853.0l11.0 11.0M672.0 864.0l11.0 -11.0"/>
<path d="M691.0 842.5h11.0M696.5 837.0v11.0M691.0 837.0l11.0 11.0M691.0 848.0l11.0 -11.0"/>
<path d="M710.0 851.5h11.0M715.5 846.0v11.0M710.0 846.0l11.0 11.0M710.0 857.0l11.0 -11.0"/>
<path d="M728.0 856.5h11.0M733.5 851.0v11.0M728.0 851.0l11.0 11.0M728.0 862.0l11.0 -11.0"/>
<path d="M747.0 845.5h11.0M752.5 840.0v11.0M747.0 840.0l11.0 11.0M747.0 851.0l11.0 -11.0"/>
<path d="M766.0 869.5h11.0M771.5 864.0v11.0M766.0 864.0l11.0 11.0M766.0 875.0l11.0 -11.0"/>
<path d="M785.0 879.5h11.0M790.5 874.0v11.0M785.0 874.0l11.0 11.0M785.0 885.0l11.0 -11.0"/>
<path d="M803.0 879.5h11.0M808.5 874.0v11.0M803.0 874.0l11.0 11.0M803.0 885.0l11.0 -11.0"/>
<path d="M822.0 830.5h11.0M827.5 825.0v11.0M822.0 825.0l11.0 11.0M822.0 836.0l11.0 -11.0"/>
<path d="M841.0 794.5h11.0M846.5 789.0v11.0M841.0 789.0l11.0 11.0M841.0 800.0l11.0 -11.0"/>
<path d="M859.0 809.5h11.0M864.5 804.0v11.0M859.0 804.0l11.0 11.0M859.0 815.0l11.0 -11.0"/>
<path d="M878.0 830.5h11.0M883.5 825.0v11.0M878.0 825.0l11.0 11.0M878.0 836.0l11.0 -11.0"/>
<path d="M897.0 826.5h11.0M902.5 821.0v11.0M897.0 821.0l11.0 11.0M897.0 832.0l11.0 -11.0"/>
<path d="M915.0 842.5h11.0M920.5 837.0v11.0M915.0 837.0l11.0 11.0M915.0 848.0l11.0 -11.0"/>
<path d="M934.0 841.5h11.0M939.5 836.0v11.0M934.0 836.0l11.0 11.0M934.0 847.0l11.0 -11.0"/>
<path d="M953.0 844.5h11.0M958.5 839.0v11.0M953.0 839.0l11.0 11.0M953.0 850.0l11.0 -11.0"/>
<path d="M972.0 816.5h11.0M977.5 811.0v11.0M972.0 811.0l11.0 11.0M972.0 822.0l11.0 -11.0"/>
<path d="M990.0 787.5h11.0M995.5 782.0v11.0M990.0 782.0l11.0 11.0M990.0 793.0l11.0 -11.0"/>
<path d="M1009.0 802.5h11.0M1014.5 797.0v11.0M1009.0 797.0l11.0 11.0M1009.0 808.0l11.0 -11.0"/>
<path d="M1028.0 823.5h11.0M1033.5 818.0v11.0M1028.0 818.0l11.0 11.0M1028.0 829.0l11.0 -11.0"/>
<path d="M1046.0 826.5h11.0M1051.5 821.0v11.0M1046.0 821.0l11.0 11.0M1046.0 832.0l11.0 -11.0"/>
<path d="M1065.0 846.5h11.0M1070.5 841.0v11.0M1065.0 841.0l11.0 11.0M1065.0 852.0l11.0 -11.0"/>
<path d="M1084.0 845.5h11.0M1089.5 840.0v11.0M1084.0 840.0l11.0 11.0M1084.0 851.0l11.0 -11.0"/>
<path d="M1103.0 854.5h11.0M1108.5 849.0v11.0M1103.0 849.0l11.0 11.0M1103.0 860.0l11.0 -11.0"/>
<path d="M1121.0 838.5h11.0M1126.5 833.0v11.0M1121.0 833.0l11.0 11.0M1121.0 844.0l11.0 -11.0"/>
<path d="M1140.0 826.5h11.0M1145.5 821.0v11.0M1140.0 821.0l11.0 11.0M1140.0 832.0l11.0 -11.0"/>
<path d="M1159.0 839.5h11.0M1164.5 834.0v11.0M1159.0 834.0l11.0 11.0M1159.0 845.0l11.0 -11.0"/>
<path d="M1177.0 849.5h11.0M1182.5 844.0v11.0M1177.0 844.0l11.0 11.0M1177.0 855.0l11.0 -11.0"/>
<path d="M1196.0 854.5h11.0M1201.5 849.0v11.0M1196.0 849.0l11.0 11.0M1196.0 860.0l11.0 -11.0"/>
<path d="M1215.0 873.5h11.0M1220.5 868.0v11.0M1215.0 868.0l11.0 11.0M1215.0 879.0l11.0 -11.0"/>
<path d="M1234.0 864.5h11.0M1239.5 859.0v11.0M1234.0 859.0l11.0 11.0M1234.0 870.0l11.0 -11.0"/>
<path d="M1252.0 863.5h11.0M1257.5 858.0v11.0M1252.0 858.0l11.0 11.0M1252.0 869.0l11.0 -11.0"/>
<path d="M1271.0 839.5h11.0M1276.5 834.0v11.0M1271.0 834.0l11.0 11.0M1271.0 845.0l11.0 -11.0"/>
<path d="M1290.0 812.5h11.0M1295.5 807.0v11.0M1290.0 807.0l11.0 11.0M1290.0 818.0l11.0 -11.0"/>
<path d="M1308.0 811.5h11.0M1313.5 806.0v11.0M1308.0 806.0l11.0 11.0M1308.0 817.0l11.0 -11.0"/>
<path d="M1327.0 811.5h11.0M1332.5 806.0v11.0M1327.0 806.0l11.0 11.0M1327.0 817.0l11.0 -11.0"/>
<path d="M1364.0 808.5h11.0M1369.5 803.0v11.0M1364.0 803.0l11.0 11.0M1364.0 814.0l11.0 -11.0"/>
<path d="M1402.0 782.5h11.0M1407.5 777.0v11.0M1402.0 777.0l11.0 11.0M1402.0 788.0l11.0 -11.0"/>
<path d="M1439.0 691.5h11.0M1444.5 686.0v11.0M1439.0 686.0l11.0 11.0M1439.0 697.0l11.0 -11.0"/>
<path d="M1389.0 324.5h11.0M1394.5 319.0v11.0M1389.0 319.0l11.0 11.0M1389.0 330.0l11.0 -11.0"/>
</g>
<g fill="#00ffff">
<path d="M135.5 806.18l5.8 -10.2h-11.6z"/>
<path d="M141.5 834.18l5.8 -10.2h-11.6z"/>
<path d="M147.5 818.18l5.8 -10.2h-11.6z"/>
<path d="M153.5 818.18l5.8 -10.2h-11.6z"/>
<path d="M160.5 791.18l5.8 -10.2h-11.6z"/>
<path d="M166.5 726.18l5.8 -10.2h-11.6z"/>
<path d="M172.5 721.18l5.8 -10.2h-11.6z"/>
<path d="M178.5 698.18l5.8 -10.2h-11.6z"/>
<path d="M185.5 683.18l5.8 -10.2h-11.6z"/>
<path d="M191.5 704.18l5.8 -10.2h-11.6z"/>
<path d="M197.5 702.18l5.8 -10.2h-11.6z"/>
<path d="M203.5 700.18l5.8 -10.2h-11.6z"/>
<path d="M210.5 743.18l5.8 -10.2h-11.6z"/>
<path d="M216.5 779.18l5.8 -10.2h-11.6z"/>
<path d="M222.5 775.18l5.8 -10.2h-11.6z"/>
<path d="M228.5 754.18l5.8 -10.2h-11.6z"/>
<path d="M235.5 728.18l5.8 -10.2h-11.6z"/>
<path d="M241.5 733.18l5.8 -10.2h-11.6z"/>
<path d="M247.5 674.18l5.8 -10.2h-11.6z"/>
<path d="M253.5 622.18l5.8 -10.2h-11.6z"/>
<path d="M259.5 679.18l5.8 -10.2h-11.6z"/>
<path d="M266.5 708.18l5.8 -10.2h-11.6z"/>
<path d="M272.5 481.18l5.8 -10.2h-11.6z"/>
<path d="M278.5 400.18l5.8 -10.2h-11.6z"/>
<path d="M284.5 407.18l5.8 -10.2h-11.6z"/>
<path d="M1394.5 362.18l5.8 -10.2h-11.6z"/>
</g>
</svg>
</body></html>
